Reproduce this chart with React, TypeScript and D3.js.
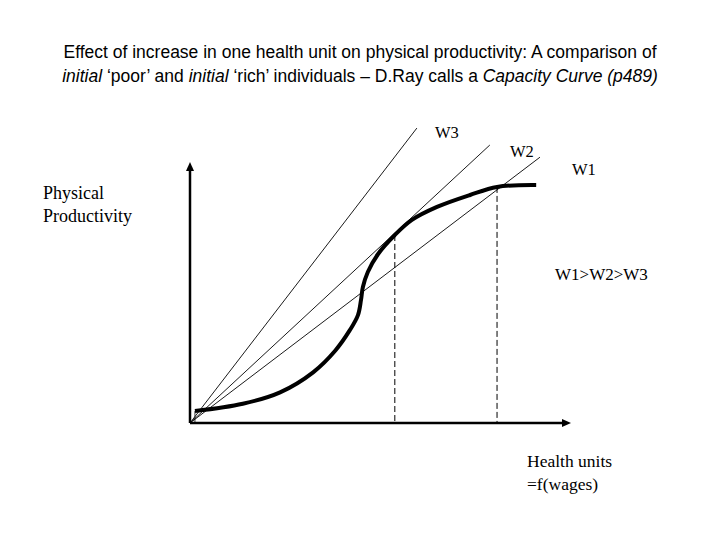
import React from 'react';
import * as d3 from 'd3';

// capacity curve: productivity as a function of health units
const healthUnits = [1.3, 13.9, 23.7, 32.4, 38.2, 42.1, 44.2, 45, 45.5, 46.8, 49.5, 53.9, 58.4, 65, 73.7, 80.8, 91.1];
const productivity = [4.6, 7.4, 11.8, 19.5, 27.8, 35.8, 41.5, 47.3, 52.3, 58.1, 65, 72.3, 78.1, 83.1, 87.7, 90.8, 91.5];

// wage rays from the origin
const wageLabels = ['W3', 'W2', 'W1'];
const raySlopes = [1.9, 1.355, 1.11];
const rayEndX = [59.7, 78.9, 92.1];

// points where the rays touch the curve
const tangentX = [53.9, 80.8];
const tangentY = [72.3, 90.8];

const W = 720;
const H = 540;

const App = () => {
  const x = d3.scaleLinear().domain([0, 100]).range([190, 570]);
  const y = d3.scaleLinear().domain([0, 100]).range([423, 163]);

  const curve = d3.line<number>()
    .x(d => x(healthUnits[d]))
    .y(d => y(productivity[d]))
    .curve(d3.curveCatmullRom.alpha(0.5));

  const idx = healthUnits.map((_, i) => i);
  const serif = '"Liberation Serif", "Times New Roman", serif';
  const sans = '"Liberation Sans", Arial, sans-serif';

  const labelPos = [
    { lx: 435, ly: 138 },
    { lx: 510, ly: 157 },
    { lx: 572, ly: 175 },
  ];

  return (
    <svg width={W} height={H} style={{ display: 'block', position: 'absolute', left: 0, top: 0 }}>
      <rect width={W} height={H} fill="#fff" />

      {/* title */}
      <g fontFamily={sans} fontSize={17.5} textAnchor="middle" fill="#000">
        <text x={360} y={58}>Effect of increase in one health unit on physical productivity: A comparison of</text>
        <text x={360} y={82}>
          <tspan fontStyle="italic">initial</tspan>
          <tspan> ‘poor’ and </tspan>
          <tspan fontStyle="italic">initial</tspan>
          <tspan> ‘rich’ individuals – D.Ray calls a </tspan>
          <tspan fontStyle="italic">Capacity Curve (p489)</tspan>
        </text>
      </g>

      {/* rays */}
      {raySlopes.map((s, i) => (
        <line key={wageLabels[i]} x1={x(0)} y1={y(0)} x2={x(rayEndX[i])} y2={y(s * rayEndX[i])}
          stroke="#000" strokeWidth={0.9} />
      ))}

      {/* dashed drop lines */}
      {tangentX.map((t, i) => (
        <line key={i} x1={x(t)} y1={y(tangentY[i])} x2={x(t)} y2={y(0)}
          stroke="#000" strokeWidth={1} strokeDasharray="6,3" />
      ))}
      <line x1={x(healthUnits[0])} y1={y(productivity[0])} x2={x(healthUnits[0])} y2={y(0)}
        stroke="#000" strokeWidth={0.8} />

      {/* axes */}
      <line x1={x(0)} y1={y(0)} x2={x(0)} y2={y(100) + 6} stroke="#000" strokeWidth={2.5} />
      <path d={`M${x(0)},${y(100) - 1} l-4,9 l8,0 z`} fill="#000" />
      <line x1={x(0)} y1={y(0)} x2={x(100) - 6} y2={y(0)} stroke="#000" strokeWidth={2.5} />
      <path d={`M${x(100) + 1},${y(0)} l-9,-4 l0,8 z`} fill="#000" />

      {/* capacity curve */}
      <path d={curve(idx) || ''} fill="none" stroke="#000" strokeWidth={4} strokeLinecap="butt" />

      {/* labels */}
      <g fontFamily={serif} fill="#000">
        {wageLabels.map((w, i) => (
          <text key={w} x={labelPos[i].lx} y={labelPos[i].ly} fontSize={16.5}>{w}</text>
        ))}
        <text x={555} y={280} fontSize={17}>W1&gt;W2&gt;W3</text>
        <text x={43} y={199} fontSize={18}>Physical</text>
        <text x={43} y={222} fontSize={18}>Productivity</text>
        <text x={527} y={467} fontSize={17.5}>Health units</text>
        <text x={527} y={490} fontSize={17.5}>=f(wages)</text>
      </g>
    </svg>
  );
};

export default App;
